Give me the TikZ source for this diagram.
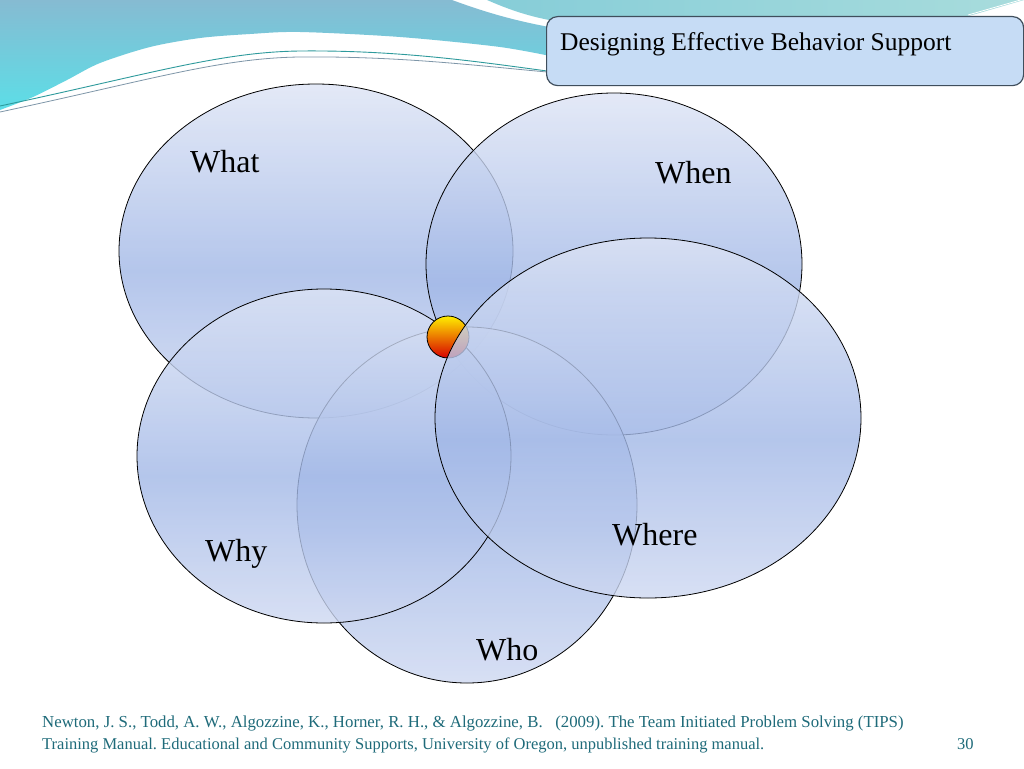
\documentclass[tikz,border=0pt]{standalone}
\usepackage{fontspec}
\setmainfont{Liberation Serif}
\usetikzlibrary{shapes.geometric}
\definecolor{etop}{HTML}{DDE4F5}
\definecolor{emid}{HTML}{A2B8E7}
\definecolor{ebot}{HTML}{CED8F1}
\definecolor{tealtop}{HTML}{86BBD2}
\definecolor{tealbot}{HTML}{5CDEE7}
\definecolor{mintl}{HTML}{86CDD8}
\definecolor{mintr}{HTML}{A8DCDC}
\definecolor{boxfill}{HTML}{C6DCF5}
\definecolor{boxline}{HTML}{3F4E5C}
\definecolor{foot}{HTML}{1F6B7A}
\definecolor{lineA}{HTML}{2E9A9C}
\definecolor{lineB}{HTML}{7E96A8}
\pgfdeclareverticalshading{ellfill}{100bp}{color(0bp)=(ebot); color(25bp)=(ebot); color(47bp)=(emid); color(75bp)=(etop); color(100bp)=(etop)}
\tikzset{
  venn/.style={ellipse, draw=black, line width=0.8pt, shading=ellfill, fill opacity=0.8, draw opacity=1, inner sep=0pt},
  vlabel/.style={anchor=base west, font=\fontsize{32}{36}\selectfont, text=black, inner sep=0pt},
  reftext/.style={anchor=base west, font=\fontsize{16.5}{19}\selectfont\frenchspacing, text=foot, inner sep=0pt},
}
\begin{document}
\begin{tikzpicture}[x=1pt,y=-1pt]
\fill[white] (0,0) rectangle (1024,768);
\useasboundingbox (0,0) rectangle (1024,768);
% top decoration
\shade[top color=tealtop, bottom color=tealbot]
  (0,0) -- (452,0) .. controls (490,14) and (520,22) .. (560,29) -- (560,58)
  -- plot[smooth] coordinates {(560,58) (500,47) (400,37) (300,32) (250,34) (200,38) (150,47) (100,63) (67,80) (33,97) (0,110)} -- cycle;
\shade[left color=mintl, right color=mintr]
  (487,0) .. controls (510,10) and (530,17) .. (560,22) -- (560,17) -- (965,17) .. controls (990,10) and (1010,4) .. (1024,0) -- cycle;
\draw[white, line width=0.8pt] (968,15) -- (1024,-1);
\draw[white, line width=0.8pt] (995,14) -- (1024,5);
\draw[lineA, line width=0.9pt] (0,106) .. controls (150,74) and (220,52) .. (300,51) .. controls (400,50) and (480,62) .. (547,71);
\draw[lineB, line width=0.8pt] (0,112) .. controls (150,80) and (220,58) .. (300,57) .. controls (400,56) and (480,66) .. (547,72);
% title box
\node[draw=boxline, fill=boxfill, rounded corners=11pt, line width=1.2pt, minimum width=477pt, minimum height=69pt, anchor=north west, inner sep=0pt] (title) at (546,16) {};
\node[anchor=base west, font=\fontsize{25.5}{30}\selectfont, inner sep=0pt] (titletext) at (560,50) {Designing Effective Behavior Support};
% ellipses
\node[venn, minimum width=394pt, minimum height=334pt] (what) at (316,251) {};
\node[venn, minimum width=376pt, minimum height=342pt] (when) at (614,264) {};
\node[venn, minimum width=340pt, minimum height=356pt] (who) at (467,505) {};
\node[venn, minimum width=374pt, minimum height=334pt] (why) at (324,456) {};
\node[circle, draw=black, line width=0.8pt, minimum size=42pt, inner sep=0pt,
  top color={rgb,255:red,255;green,238;blue,0}, middle color={rgb,255:red,255;green,120;blue,0}, bottom color={rgb,255:red,215;green,0;blue,0}] (ball) at (448,337) {};
\node[venn, minimum width=426pt, minimum height=360pt] (where) at (648,418) {};
% labels
\node[vlabel] (lwhat) at (190,172) {What};
\node[vlabel] (lwhen) at (655,183) {When};
\node[vlabel] (lwhy) at (205,561) {Why};
\node[vlabel] (lwho) at (476,660) {Who};
\node[vlabel] (lwhere) at (612,545) {Where};
% footer
\node[reftext, font=\fontsize{16.8}{19}\selectfont\frenchspacing] (ref1) at (42,727) {Newton, J. S., Todd, A. W., Algozzine, K., Horner, R. H., \& Algozzine, B.\ \ \ (2009). The Team Initiated Problem Solving (TIPS)};
\node[reftext] (ref2) at (42,749) {Training Manual. Educational and Community Supports, University of Oregon, unpublished training manual.};
\node[reftext] (page) at (957,749) {30};
\end{tikzpicture}
\end{document}
